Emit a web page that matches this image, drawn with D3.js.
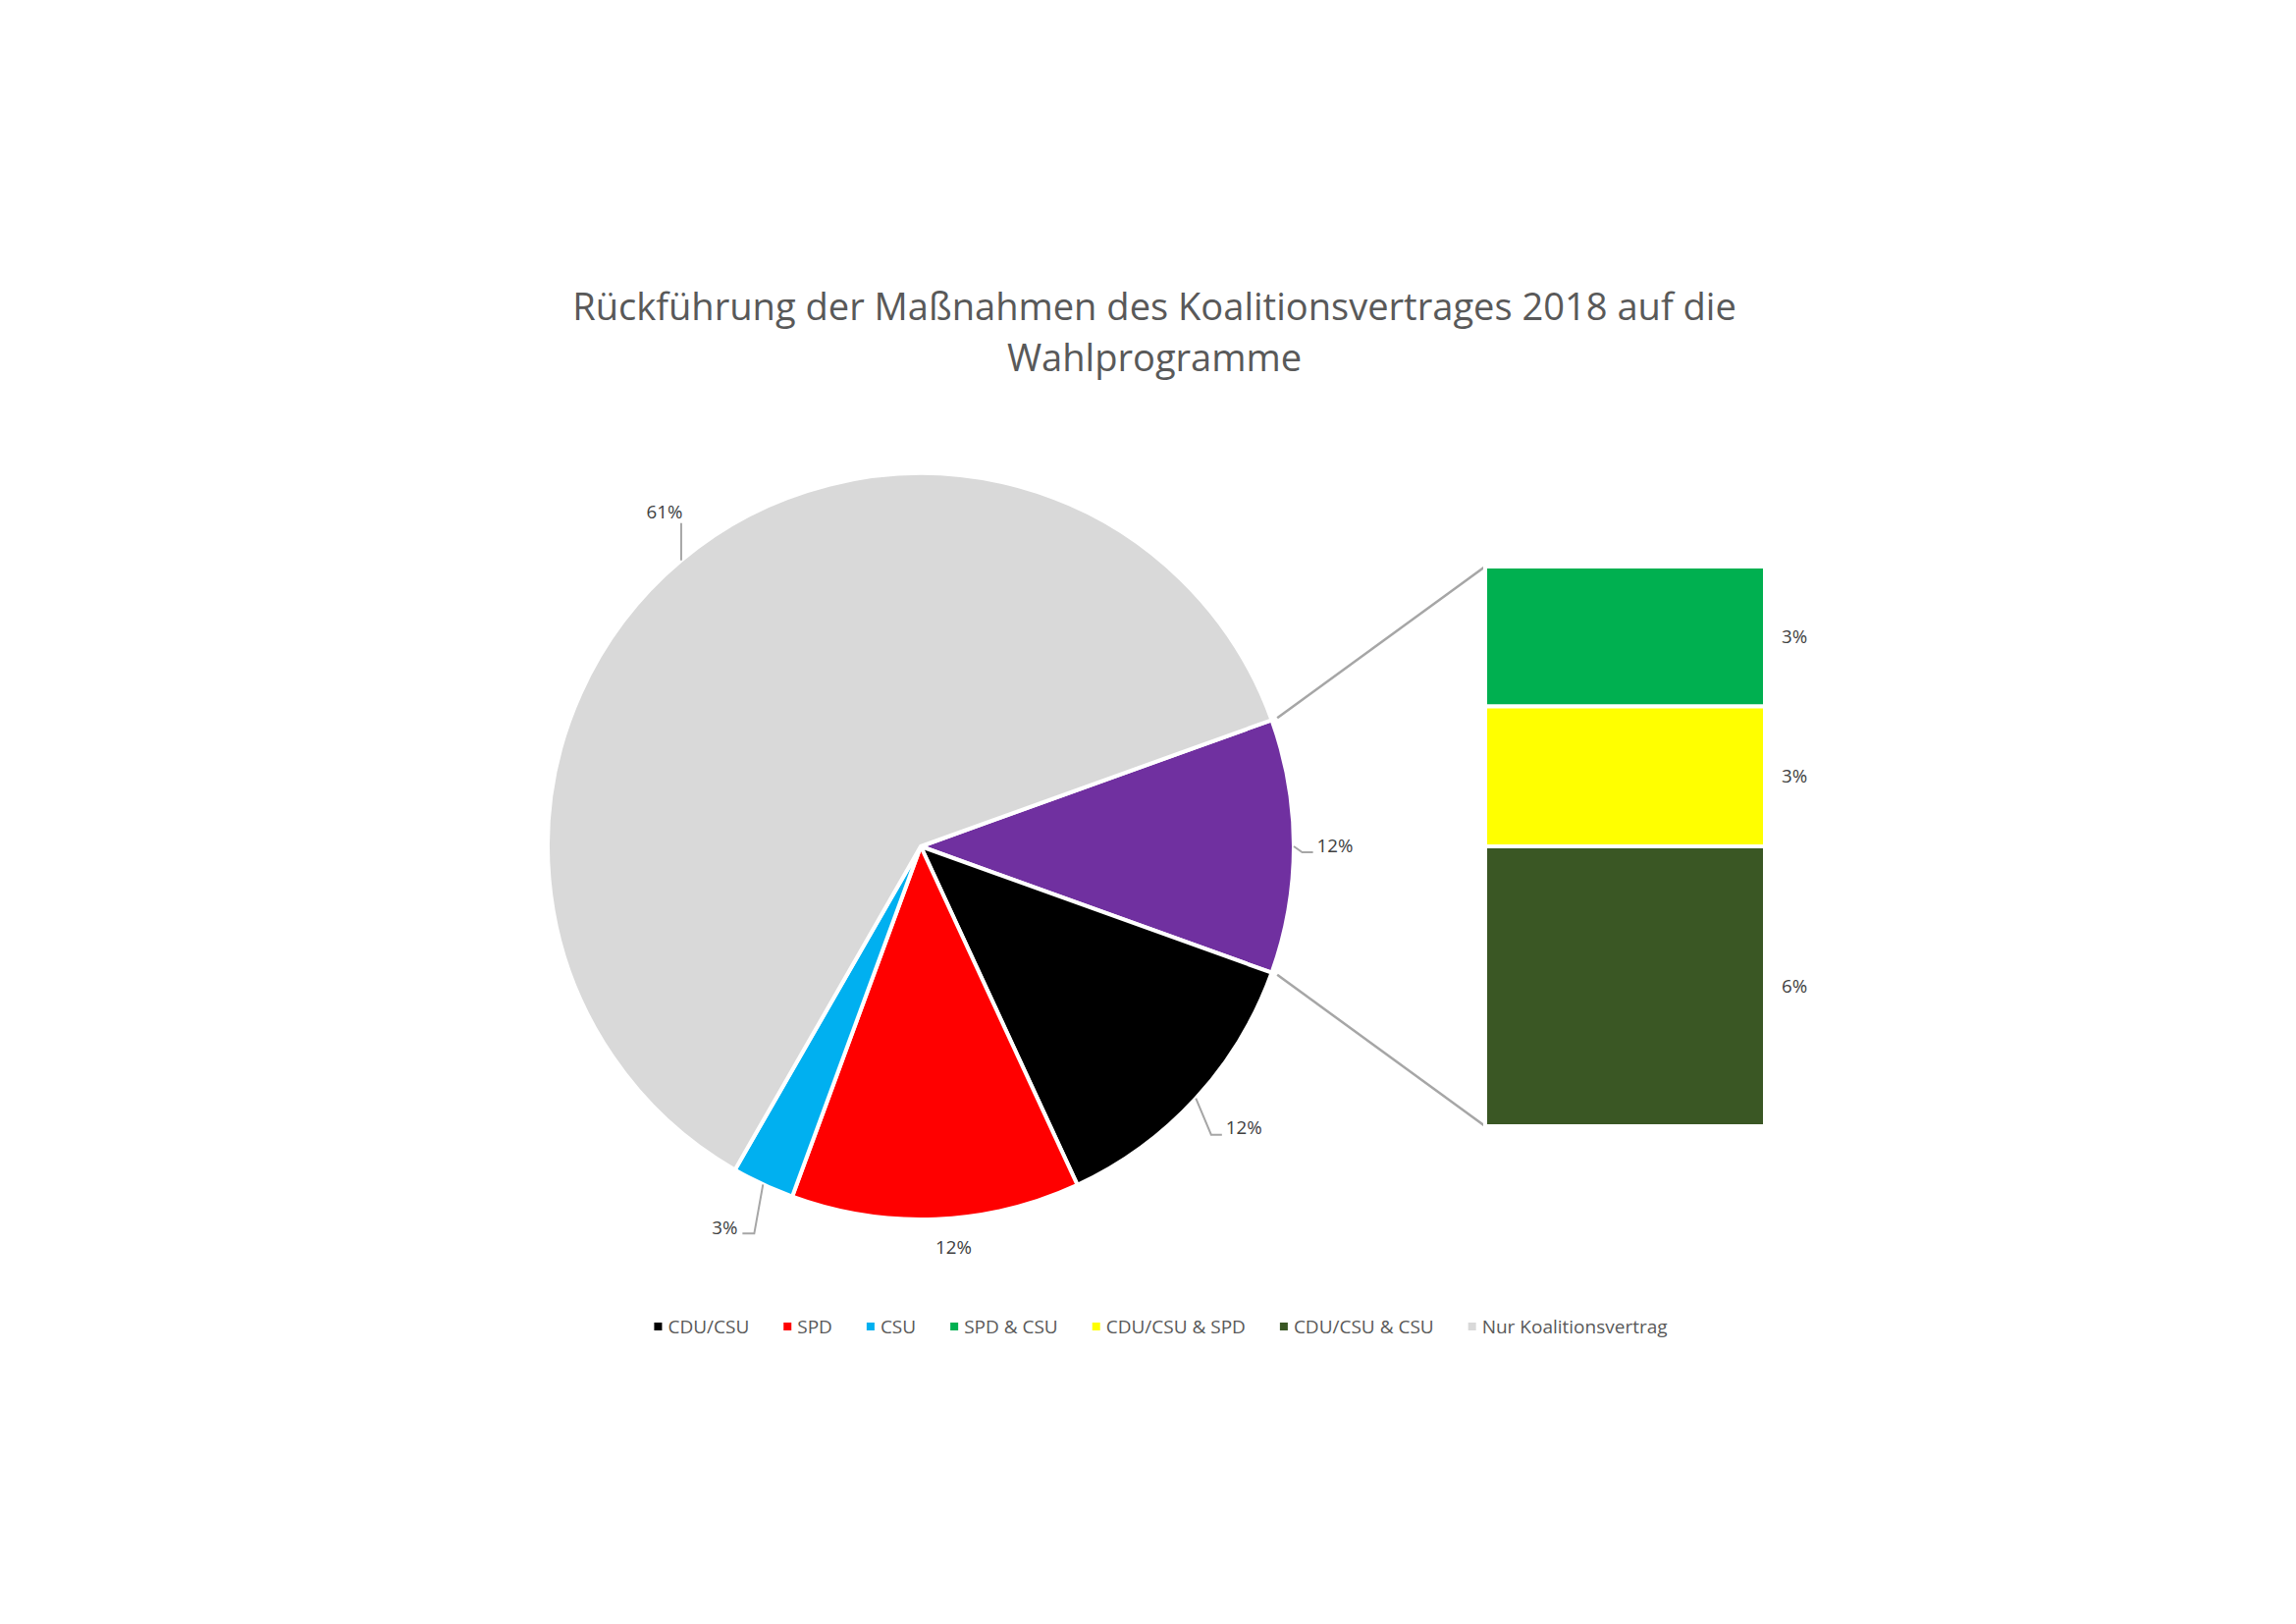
<!DOCTYPE html>
<html><head><meta charset="utf-8">
<script src="https://cdn.jsdelivr.net/npm/d3@7"></script>
<style>body{margin:0;background:#fff}svg{display:block}</style>
</head><body><svg id="c" width="2339" height="1654"></svg>
<script>
// ---- data ----
const titleLines = ["Rückführung der Maßnahmen des Koalitionsvertrages 2018 auf die", "Wahlprogramme"];
const categories = ["CDU/CSU", "SPD", "CSU", "SPD & CSU", "CDU/CSU & SPD", "CDU/CSU & CSU", "Nur Koalitionsvertrag"];
const values = [12.6, 12.5, 2.7, 2.75, 2.75, 5.5, 61.2];
const valueLabels = ["12%", "12%", "3%", "3%", "3%", "6%", "61%"];
const otherLabel = "12%";
const secondaryIdx = [3, 4, 5];
const primaryIdx = [1, 2, 6]; // after CDU/CSU (index 0) in clockwise order
const colors = ["#000000", "#FF0000", "#00B0F0", "#00B050", "#FFFF00", "#3A5724", "#D9D9D9"];
const otherColor = "#7030A0";

// ---- layout ----
const W = 2339, H = 1654;
const cx = 938, cy = 862, R = 380;
const bar = {x0: 1513, x1: 1798, y0: 577, y1: 1147};
const fontFam = "'Open Sans', sans-serif";
const labelLayout = {
  "Other": {dx: 42, dy: -1, leader: "right"},
  "CDU/CSU": {dx: 49, dy: 30, leader: "right"},
  "SPD": {dx: 18, dy: 29, leader: "none"},
  "CSU": {dx: -39, dy: 44, leader: "left"},
  "Nur Koalitionsvertrag": {dx: -17, dy: -49, leader: "up"}
};

const svg = d3.select("#c");

// title
const tg = svg.append("g");
titleLines.forEach((t, i) => {
  tg.append("text").attr("x", 1176).attr("y", 313 + i * 52).attr("dy", "0.35em")
    .attr("text-anchor", "middle").attr("fill", "#595959")
    .style("font-family", fontFam).style("font-size", "37.5px").text(t);
});
// fit title width to reference
const first = tg.select("text").node();
const w0 = first.getComputedTextLength();
const fs = 37.5 * 1186 / w0;
tg.selectAll("text").style("font-size", fs + "px");

// pie data
const otherSum = d3.sum(secondaryIdx, i => values[i]);
const pieItems = [{name: "Other", value: otherSum, color: otherColor, label: otherLabel}]
  .concat([0].concat(primaryIdx).map(i => ({name: categories[i], value: values[i], color: colors[i], label: valueLabels[i]})));
const total = d3.sum(pieItems, d => d.value);
const otherAngle = otherSum / total * 2 * Math.PI;
const start = Math.PI / 2 - otherAngle / 2;
const pie = d3.pie().sort(null).value(d => d.value).startAngle(start).endAngle(start + 2 * Math.PI);
const arcs = pie(pieItems);
const arc = d3.arc().innerRadius(0).outerRadius(R);
const polar = (a, r) => [cx + r * Math.sin(a), cy - r * Math.cos(a)];

// connector lines
const oArc = arcs[0];
const yS = d3.scaleLinear().domain([0, otherSum]).range([bar.y0, bar.y1]);
const cg = svg.append("g").attr("stroke", "#A6A6A6").attr("stroke-width", 2.5).attr("fill", "none");
const pTop = polar(oArc.startAngle, R + 6), pBot = polar(oArc.endAngle, R + 6);
cg.append("line").attr("x1", pTop[0]).attr("y1", pTop[1]).attr("x2", bar.x0).attr("y2", yS(0));
cg.append("line").attr("x1", pBot[0]).attr("y1", pBot[1]).attr("x2", bar.x0).attr("y2", yS(otherSum));

// pie
svg.append("g").attr("transform", `translate(${cx},${cy})`)
  .selectAll("path").data(arcs).join("path")
  .attr("d", arc).attr("fill", d => d.data.color)
  .attr("stroke", "#fff").attr("stroke-width", 4).attr("stroke-linejoin", "round");

// pie labels
const lg = svg.append("g");
arcs.forEach(a => {
  const mid = (a.startAngle + a.endAngle) / 2;
  const rim = polar(mid, R);
  const L = labelLayout[a.data.name];
  const lx = rim[0] + L.dx, ly = rim[1] + L.dy;
  const t = lg.append("text").attr("x", lx).attr("y", ly).attr("dy", "0.35em")
    .attr("text-anchor", "middle").attr("fill", "#404040")
    .style("font-family", fontFam).style("font-size", "18.7px").text(a.data.label);
  const tw = t.node().getComputedTextLength();
  let pts = null;
  if (L.leader === "right") pts = [rim, [lx - tw / 2 - 15, ly + 7], [lx - tw / 2 - 4, ly + 7]];
  else if (L.leader === "left") pts = [rim, [lx + tw / 2 + 17, ly + 6], [lx + tw / 2 + 5, ly + 6]];
  else if (L.leader === "up") pts = [rim, [rim[0], ly + 11]];
  if (pts) lg.append("path").attr("d", d3.line()(pts)).attr("fill", "none")
    .attr("stroke", "#A6A6A6").attr("stroke-width", 2);
});

// secondary stacked bar
let acc = 0;
const stack = secondaryIdx.map(i => { const s = {i, y0: acc, y1: acc + values[i]}; acc += values[i]; return s; });
const bg = svg.append("g");
bg.selectAll("rect").data(stack).join("rect")
  .attr("x", bar.x0).attr("width", bar.x1 - bar.x0)
  .attr("y", d => yS(d.y0)).attr("height", d => yS(d.y1) - yS(d.y0))
  .attr("fill", d => colors[d.i]).attr("stroke", "#fff").attr("stroke-width", 4);
bg.selectAll("text").data(stack).join("text")
  .attr("x", bar.x1 + 17).attr("y", d => yS((d.y0 + d.y1) / 2)).attr("dy", "0.35em")
  .attr("fill", "#404040").style("font-family", fontFam).style("font-size", "18.7px")
  .text(d => valueLabels[d.i]);

// legend
const leg = svg.append("g");
let x = 0;
categories.forEach((c, i) => {
  const g = leg.append("g").attr("transform", `translate(${x},0)`);
  g.append("rect").attr("x", 0).attr("y", -4).attr("width", 8).attr("height", 8).attr("fill", colors[i]);
  const t = g.append("text").attr("x", 14).attr("y", 0).attr("dy", "0.35em").attr("fill", "#595959")
    .style("font-family", fontFam).style("font-size", "19px").text(c);
  x += 14 + t.node().getComputedTextLength() + 35;
});
const legW = x - 35;
leg.attr("transform", `translate(${1182.5 - legW / 2},1351)`);
</script></body></html>
